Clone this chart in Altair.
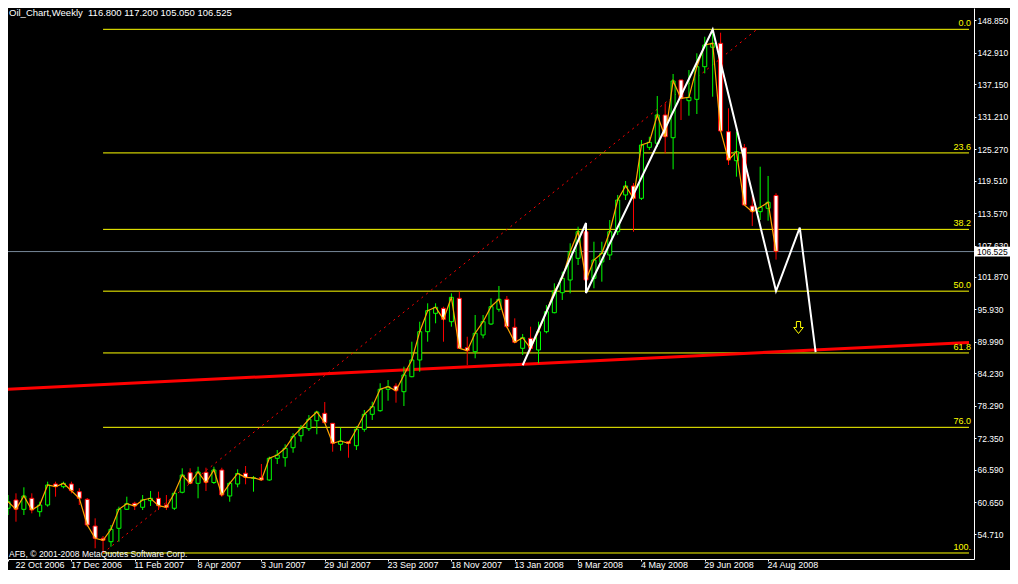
import altair as alt
import pandas as pd

# ---------------- data (weekly OHLC) ----------------
opens = [59.51, 61.03, 59.32, 61.34, 58.88, 60.11, 63.96, 63.46, 63.96, 62.55,
         61.15, 56.26, 54.01, 53.39, 55.84, 59.32, 60.42, 59.69, 60.90, 61.34,
         60.11, 59.51, 62.44, 66.02, 64.08, 66.10, 64.23, 66.52, 61.76, 63.96,
         65.92, 65.00, 65.11, 64.69, 68.66, 68.77, 70.60, 72.80, 74.08, 75.55,
         76.90, 75.07, 71.23, 71.70, 70.97, 73.97, 76.72, 77.38, 81.30, 81.90,
         80.86, 83.61, 86.67, 91.85, 95.22, 96.14, 93.68, 97.97, 88.92, 88.19,
         91.25, 93.26, 95.95, 97.78, 92.66, 88.81, 90.64, 88.50, 91.85, 95.33,
         98.99, 101.32, 105.29, 110.16, 101.63, 104.62, 105.90, 110.16, 116.89, 118.53,
         116.28, 125.62, 126.36, 131.54, 127.38, 137.95, 134.16, 134.41, 140.38, 143.94,
         144.67, 128.48, 123.17, 125.55, 114.87, 113.83, 114.45, 116.80]
highs = [61.94, 62.25, 63.35, 62.25, 60.71, 64.38, 64.38, 64.38, 64.38, 63.17,
         61.39, 57.67, 54.43, 56.45, 59.80, 61.63, 60.71, 61.94, 62.67, 62.55,
         61.94, 62.55, 66.83, 66.83, 67.12, 66.94, 67.12, 66.94, 64.38, 66.65,
         67.25, 65.42, 67.62, 68.96, 70.18, 71.23, 73.24, 74.76, 76.59, 77.38,
         78.97, 75.07, 74.27, 71.70, 74.58, 77.51, 79.03, 82.40, 83.00, 82.40,
         85.44, 90.02, 93.68, 97.05, 97.05, 96.43, 98.88, 99.18, 90.93, 94.91,
         94.91, 97.97, 100.22, 98.39, 94.30, 91.43, 92.77, 93.68, 96.74, 100.71,
         102.84, 108.04, 111.08, 110.84, 108.33, 108.33, 112.31, 116.89, 119.45, 119.08,
         126.96, 127.56, 135.02, 133.68, 139.05, 137.95, 139.78, 142.84, 145.88, 147.23,
         146.61, 132.77, 128.48, 126.23, 116.70, 122.07, 120.37, 117.20]
lows = [58.28, 57.05, 58.28, 58.59, 57.97, 59.80, 61.63, 63.17, 62.25, 60.11,
        56.14, 52.18, 51.32, 52.47, 53.39, 59.19, 59.19, 59.19, 59.93, 59.19,
        59.19, 59.19, 62.25, 63.96, 61.34, 62.67, 63.96, 61.63, 60.71, 63.35,
        63.90, 62.55, 64.69, 64.56, 67.62, 67.12, 69.69, 71.70, 73.66, 73.06,
        75.07, 69.87, 70.05, 68.77, 70.18, 73.53, 75.68, 77.20, 79.21, 78.85,
        78.24, 83.50, 84.52, 90.02, 93.39, 90.02, 92.77, 88.81, 85.75, 86.98,
        90.64, 93.08, 95.51, 92.47, 89.73, 87.58, 88.19, 86.06, 91.56, 95.22,
        97.66, 98.88, 104.07, 101.32, 99.80, 101.01, 104.98, 109.56, 115.97, 110.16,
        115.97, 125.13, 125.68, 124.52, 121.59, 130.62, 131.41, 131.72, 139.17, 134.89,
        128.48, 122.38, 120.24, 115.05, 111.21, 112.31, 112.18, 105.05]
closes = [60.71, 59.32, 61.76, 59.19, 60.11, 63.77, 63.46, 64.08, 62.73, 61.34,
          56.45, 54.01, 53.65, 55.66, 59.32, 60.35, 59.93, 61.03, 61.34, 59.98,
          59.69, 62.25, 65.60, 64.08, 66.15, 64.23, 66.52, 61.94, 64.08, 65.88,
          65.18, 65.09, 64.69, 68.66, 69.27, 70.49, 72.62, 74.16, 75.81, 77.14,
          75.18, 71.41, 71.83, 71.41, 73.97, 76.72, 78.11, 81.30, 81.78, 81.04,
          83.92, 86.67, 91.85, 95.70, 96.32, 94.12, 98.15, 88.81, 88.37, 91.56,
          93.68, 96.43, 97.78, 92.77, 89.91, 90.75, 88.81, 91.85, 95.51, 99.30,
          101.63, 106.50, 110.16, 101.32, 104.98, 106.21, 110.16, 115.97, 118.53, 116.28,
          126.04, 126.54, 131.54, 127.56, 137.77, 134.60, 134.78, 140.38, 144.36, 144.67,
          128.61, 123.30, 124.82, 115.05, 113.83, 114.63, 115.55, 106.525]

tick_labels = ["22 Oct 2006", "17 Dec 2006", "11 Feb 2007", "8 Apr 2007", "3 Jun 2007",
               "29 Jul 2007", "23 Sep 2007", "18 Nov 2007", "13 Jan 2008", "9 Mar 2008",
               "4 May 2008", "29 Jun 2008", "24 Aug 2008"]
tick_idx = [8 * k for k in range(len(tick_labels))]

price_ticks = [148.85, 142.91, 137.15, 131.21, 125.27, 119.51, 113.57, 107.63, 101.87,
               95.93, 89.99, 84.23, 78.29, 72.35, 66.59, 60.65, 54.71, 48.95]

fib_high, fib_low = 147.23, 51.32
fib_low_idx, fib_high_idx = 12, 94.6
fib_ratios = [0.0, 23.6, 38.2, 50.0, 61.8, 76.0, 100.0]
fib_texts = ["0.0", "23.6", "38.2", "50.0", "61.8", "76.0", "100."]

trend_idx = [-0.375, 121.375]
trend_price = [81.30, 89.87]

zig_idx = [65, 73, 73, 89, 97, 100, 102]
zig_price = [85.7, 111.76, 98.94, 147.2, 99.3, 110.9, 88.1]

arrow_idx = [99.84]
arrow_price = [92.62]

bid = 106.525
title_text = "Oil_Chart,Weekly \u00a0116.800 117.200 105.050 106.525"
copyright_text = "AFB, \u00a9 2001-2008 MetaQuotes Software Corp."

# plot area 966 x 551 px; whole svg 1002 x 562 so that the page never overflows
PLOT_W, PLOT_H = 966, 551
X_DOMAIN = [0.625, 121.375]
Y_DOMAIN = [50.22, 151.135]
FONT = "Liberation Sans"

# ---------------- tables ----------------
n = len(opens)
cdf = pd.DataFrame({
    "i": list(range(n)), "o": opens, "h": highs, "l": lows, "c": closes,
})
cdf["dir"] = ["up" if c >= o else "down" for o, c in zip(opens, closes)]

fib_df = pd.DataFrame({
    "p": [fib_high - r / 100.0 * (fib_high - fib_low) for r in fib_ratios],
    "t": fib_texts,
    "xs": [fib_low_idx] * len(fib_ratios),
    "xe": [X_DOMAIN[1]] * len(fib_ratios),
})
diag_df = pd.DataFrame({"i": [fib_low_idx, fib_high_idx], "p": [fib_low, fib_high]})
trend_df = pd.DataFrame({"i": trend_idx, "p": trend_price})
zig_df = pd.DataFrame({"i": zig_idx, "p": zig_price, "k": list(range(len(zig_idx)))})
arrow_df = pd.DataFrame({"i": arrow_idx, "p": arrow_price})
bid_df = pd.DataFrame({"p": [bid], "top": [bid + 0.9], "bot": [bid - 0.9], "t": ["106.525"]})
title_df = pd.DataFrame({"t": [title_text]})
copy_df = pd.DataFrame({"t": [copyright_text]})

# ---------------- scales / axes ----------------
label_expr = "[" + ",".join("'%s'" % s for s in tick_labels) + "][round(datum.value/8)]"
xscale = alt.Scale(domain=X_DOMAIN, nice=False, zero=False)
yscale = alt.Scale(domain=Y_DOMAIN, nice=False, zero=False)
xaxis = alt.Axis(values=tick_idx, labelExpr=label_expr, orient="bottom", title=None,
                 grid=False, labelAlign="left", labelBaseline="alphabetic", labelPadding=6.5,
                 tickSize=2,
                 labelOffset={"condition": {"test": "datum.value == 0", "value": 7},
                              "value": -1},
                 labelFlush=False, labelOverlap=False,
                 domainColor="white", tickColor="white", labelColor="white",
                 labelFont=FONT, labelFontSize=9)
yaxis = alt.Axis(values=price_ticks, format=".3f", orient="right", title=None, grid=False,
                 labelAlign="left", labelBaseline="middle", labelPadding=1, tickSize=2,
                 labelFlush=False, labelOverlap=False, domainColor="white",
                 tickColor="white", labelColor="white", labelFont=FONT, labelFontSize=8.5)


def X(f):
    return alt.X(f, type="quantitative", scale=xscale, axis=xaxis)


def Y(f):
    return alt.Y(f, type="quantitative", scale=yscale, axis=yaxis)


dir_color = alt.Scale(domain=["up", "down"], range=["#00ff00", "#ff0000"])
dir_fill = alt.Scale(domain=["up", "down"], range=["#000000", "#ffffff"])

# ---------------- layers ----------------
fib_lines = alt.Chart(fib_df).mark_rule(color="#ffff00", strokeWidth=1).encode(
    x=X("xs"), x2="xe", y=Y("p"))
fib_labels = alt.Chart(fib_df).mark_text(
    color="#ffff00", align="right", baseline="bottom", dy=-1, font=FONT, fontSize=9
).encode(x=alt.value(963), y=Y("p"), text="t")
diag = alt.Chart(diag_df).mark_line(color="#ff0000", strokeWidth=1, strokeDash=[2, 4]).encode(
    x=X("i"), y=Y("p"))
trend = alt.Chart(trend_df).mark_line(color="#ff0000", strokeWidth=3).encode(
    x=X("i"), y=Y("p"))
bid_line = alt.Chart(bid_df).mark_rule(color="#778899", strokeWidth=1).encode(y=Y("p"))

wicks = alt.Chart(cdf).mark_rule(strokeWidth=1).encode(
    x=X("i"), y=Y("l"), y2="h",
    color=alt.Color("dir:N", scale=dir_color, legend=None))
bodies = alt.Chart(cdf).mark_bar(size=4, strokeWidth=1).encode(
    x=X("i"), y=Y("o"), y2="c",
    fill=alt.Fill("dir:N", scale=dir_fill, legend=None),
    stroke=alt.Stroke("dir:N", scale=dir_color, legend=None))
close_line = alt.Chart(cdf).mark_line(color="#ffa500", strokeWidth=1.2).encode(
    x=X("i"), y=Y("c"))

zig = alt.Chart(zig_df).mark_line(color="white", strokeWidth=2).encode(
    x=X("i"), y=Y("p"), order="k")
arrow = alt.Chart(arrow_df).mark_point(
    shape="M-0.35,-1L0.35,-1L0.35,0L0.8,0L0,1L-0.8,0L-0.35,0Z",
    filled=False, stroke="#ffff00", strokeWidth=1, size=144, opacity=1
).encode(x=X("i"), y=Y("p"))

bid_box = alt.Chart(bid_df).mark_rect(color="white").encode(
    x=alt.value(967), x2=alt.value(1002), y=Y("top"), y2="bot")
bid_text = alt.Chart(bid_df).mark_text(
    color="black", align="left", baseline="middle", font=FONT, fontSize=8.5
).encode(x=alt.value(969), y=Y("p"), text="t")

title = alt.Chart(title_df).mark_text(
    color="white", align="left", baseline="middle", font=FONT, fontSize=9.5
).encode(x=alt.value(1), y=alt.value(4.5), text="t")
copyright = alt.Chart(copy_df).mark_text(
    color="white", align="left", baseline="alphabetic", font=FONT, fontSize=8.5
).encode(x=alt.value(1), y=alt.value(548.5), text="t")

chart = alt.layer(
    fib_lines, trend, bid_line, diag, wicks, bodies, close_line, zig, arrow,
    fib_labels, bid_box, bid_text, title, copyright
).properties(
    width=PLOT_W, height=PLOT_H,
    padding={"left": 0, "top": 0, "right": 36, "bottom": 11},
    autosize=alt.AutoSizeParams(type="none"),
    background="black",
).configure_view(strokeWidth=0)

chart.save("out.html", embed_options={"renderer": "svg", "actions": False})
